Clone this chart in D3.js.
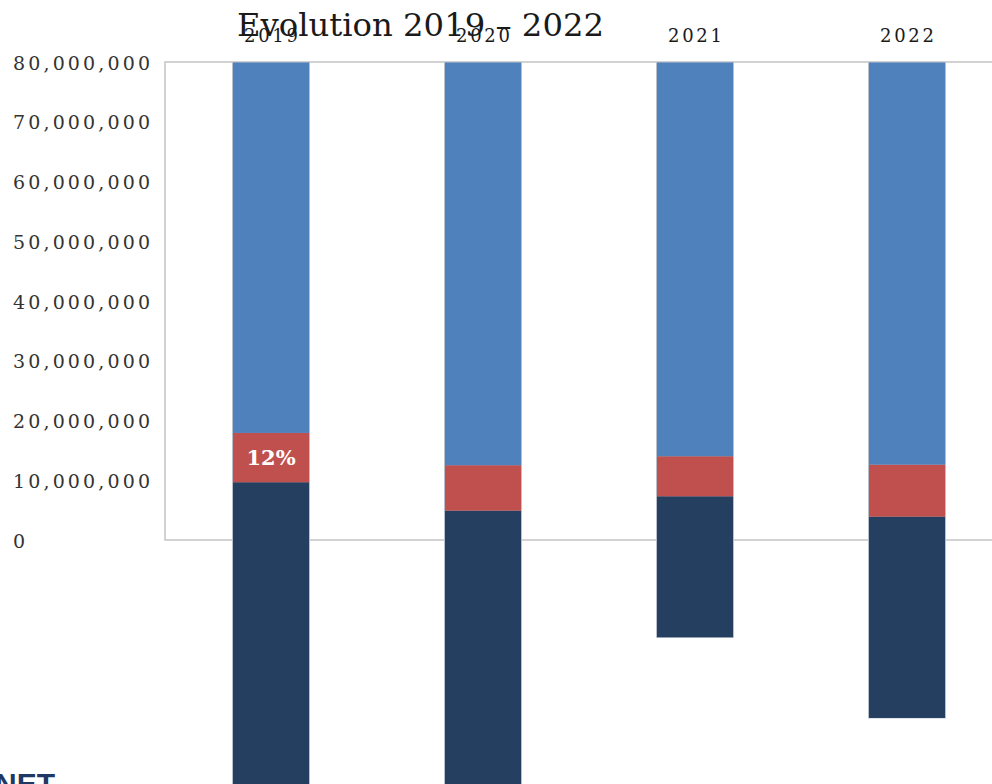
<!DOCTYPE html>
<html>
<head>
<meta charset="utf-8">
<script src="https://cdn.jsdelivr.net/npm/d3@7/dist/d3.min.js"></script>
<style>
  html, body { margin: 0; padding: 0; background: #ffffff; }
  svg { display: block; }
</style>
</head>
<body>
<svg id="chart" width="992" height="784"></svg>
<script>
// Years shown along the top of the chart
const categories = ["2019", "2020", "2021", "2022"];
// Dark segment: where it starts (below zero) and its length
const darkStart = [-45000000, -45000000, -16200000, -29700000];
const darkValues = [54750000, 50000000, 23600000, 33700000];
// Red segment sits on the dark one, blue fills up to the top of the axis
const redValues = [8250000, 7600000, 6700000, 8700000];
const blueValues = [62000000, 67400000, 65900000, 67300000];
const redLabels = ["12%", "", "", ""];
// Value axis ticks
const yTicks = [0, 10000000, 20000000, 30000000, 40000000, 50000000, 60000000, 70000000, 80000000];
const titleText = "Evolution 2019 \u2013 2022";

const svg = d3.select("#chart");
const serif = "'DejaVu Serif', Georgia, serif";

const plot = { left: 165, right: 1013, top: 62, bottom: 540 };

const x = d3.scaleBand()
  .domain(categories)
  .range([plot.left, plot.right])
  .paddingInner(0.6415)
  .paddingOuter(0.32075);

const y = d3.scaleLinear()
  .domain([0, 80000000])
  .range([plot.bottom, plot.top]);

// Plot frame
svg.append("rect")
  .attr("x", plot.left)
  .attr("y", plot.top)
  .attr("width", plot.right - plot.left)
  .attr("height", plot.bottom - plot.top)
  .attr("fill", "none")
  .attr("stroke", "#c4c4c4")
  .attr("stroke-width", 1.5);

// Build stacked segments
const rows = categories.map((c, i) => {
  const d0 = darkStart[i];
  const d1 = d0 + darkValues[i];
  const r1 = d1 + redValues[i];
  const b1 = r1 + blueValues[i];
  return { cat: c, label: redLabels[i], segs: [
    { from: d0, to: d1, color: "#243f60" },
    { from: d1, to: r1, color: "#c0504d" },
    { from: r1, to: b1, color: "#4f81bd" }
  ], low: d0, high: b1, mid: (d1 + r1) / 2 };
});

const bars = svg.append("g").selectAll("g").data(rows).join("g");

// soft edge around each column
bars.append("rect")
  .attr("x", d => x(d.cat) - 1)
  .attr("y", d => y(d.high))
  .attr("width", x.bandwidth() + 2)
  .attr("height", d => y(d.low) - y(d.high) + 1)
  .attr("fill", "#b9c0ca");

bars.selectAll("rect.seg")
  .data(d => d.segs.map(s => Object.assign({ cat: d.cat }, s)))
  .join("rect")
  .attr("class", "seg")
  .attr("x", d => x(d.cat))
  .attr("y", d => y(d.to) + 0.5)
  .attr("width", x.bandwidth())
  .attr("height", d => y(d.from) - y(d.to))
  .attr("fill", d => d.color);

// Percentage label on the red segment
bars.filter(d => d.label)
  .append("text")
  .attr("x", d => x(d.cat) + x.bandwidth() / 2)
  .attr("y", d => y(d.mid))
  .attr("dy", "0.36em")
  .attr("text-anchor", "middle")
  .attr("font-family", serif)
  .attr("font-weight", "bold")
  .attr("font-size", 21)
  .attr("fill", "#ffffff")
  .text(d => d.label);

// Value axis, labels flush left
const yAxis = svg.append("g")
  .attr("transform", `translate(${plot.left},0)`)
  .call(d3.axisLeft(y).tickValues(yTicks).tickSize(0).tickFormat(d3.format(",")));
yAxis.select(".domain").remove();
yAxis.selectAll("text")
  .attr("x", 13 - plot.left)
  .attr("dy", "0.38em")
  .attr("text-anchor", "start")
  .attr("font-family", serif)
  .attr("font-size", 19)
  .attr("fill", "#333333")
  .each(function(d) {
    if (d !== 0) d3.select(this).attr("textLength", 137).attr("lengthAdjust", "spacing");
  });

// Year axis along the top
const xAxis = svg.append("g")
  .attr("transform", "translate(0,42)")
  .call(d3.axisTop(x).tickSize(0).tickPadding(0));
xAxis.select(".domain").remove();
xAxis.selectAll("text")
  .attr("dy", 0)
  .attr("font-family", serif)
  .attr("font-size", 18)
  .attr("fill", "#1a1a1a")
  .attr("textLength", 54)
  .attr("lengthAdjust", "spacing");

// Title
svg.append("text")
  .attr("x", 237)
  .attr("y", 36)
  .attr("font-family", serif)
  .attr("font-size", 31)
  .attr("fill", "#1a1a1a")
  .attr("textLength", 367)
  .attr("lengthAdjust", "spacingAndGlyphs")
  .text(titleText);

// Brand mark in the lower-left corner
svg.append("text")
  .attr("x", 55)
  .attr("y", 794)
  .attr("text-anchor", "end")
  .attr("font-family", "'Liberation Sans', Arial, sans-serif")
  .attr("font-weight", "bold")
  .attr("font-size", 30)
  .attr("fill", "#1f3864")
  .text("NET");
</script>
</body>
</html>
